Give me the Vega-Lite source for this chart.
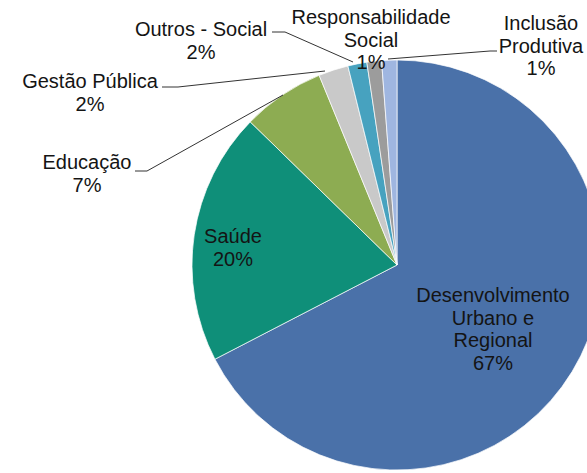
{
  "$schema": "https://vega.github.io/schema/vega-lite/v6.json",
  "width": 587,
  "height": 473,
  "padding": 0,
  "autosize": {"type": "none"},
  "background": "white",
  "config": {"view": {"stroke": null}, "axis": {"disable": true}},
  "datasets": {
    "slices": [
      {"category": "Desenvolvimento Urbano e Regional", "value": 67.4, "ord": 1},
      {"category": "Saúde", "value": 19.9, "ord": 2},
      {"category": "Educação", "value": 6.5, "ord": 3},
      {"category": "Gestão Pública", "value": 2.35, "ord": 4},
      {"category": "Outros - Social", "value": 1.5, "ord": 5},
      {"category": "Responsabilidade Social", "value": 1.15, "ord": 6},
      {"category": "Inclusão Produtiva", "value": 1.2, "ord": 7}
    ],
    "labels": [
      {"label": ["Desenvolvimento", "Urbano e", "Regional", "67%"], "lx": 493, "ly": 296},
      {"label": ["Saúde", "20%"], "lx": 233, "ly": 237},
      {"label": ["Educação", "7%"], "lx": 87, "ly": 163},
      {"label": ["Gestão Pública", "2%"], "lx": 90, "ly": 82},
      {"label": ["Outros - Social", "2%"], "lx": 201, "ly": 30},
      {"label": ["Responsabilidade", "Social", "1%"], "lx": 371, "ly": 18},
      {"label": ["Inclusão", "Produtiva", "1%"], "lx": 541, "ly": 24}
    ],
    "leaders": [
      {"lab": "Educação", "i": 1, "px": 135, "py": 171},
      {"lab": "Educação", "i": 2, "px": 147, "py": 171},
      {"lab": "Educação", "i": 3, "px": 283, "py": 95},
      {"lab": "Gestão", "i": 1, "px": 162, "py": 87},
      {"lab": "Gestão", "i": 2, "px": 178, "py": 87},
      {"lab": "Gestão", "i": 3, "px": 325, "py": 71},
      {"lab": "Outros", "i": 1, "px": 272, "py": 32},
      {"lab": "Outros", "i": 2, "px": 285, "py": 32},
      {"lab": "Outros", "i": 3, "px": 353, "py": 62},
      {"lab": "Inclusao", "i": 1, "px": 388, "py": 59},
      {"lab": "Inclusao", "i": 2, "px": 490, "py": 51},
      {"lab": "Inclusao", "i": 3, "px": 497, "py": 51}
    ]
  },
  "layer": [
    {
      "data": {"name": "slices"},
      "mark": {"type": "arc", "outerRadius": 205, "stroke": "#ffffff", "strokeWidth": 0.7},
      "encoding": {
        "x": {"datum": 397, "type": "quantitative", "scale": {"domain": [0, 587], "nice": false, "zero": false}},
        "y": {"datum": 265, "type": "quantitative", "scale": {"domain": [0, 473], "nice": false, "zero": false, "reverse": true}},
        "theta": {"field": "value", "type": "quantitative", "stack": true},
        "order": {"field": "ord", "type": "quantitative"},
        "color": {
          "field": "category",
          "type": "nominal",
          "legend": null,
          "scale": {
            "domain": ["Desenvolvimento Urbano e Regional", "Saúde", "Educação", "Gestão Pública", "Outros - Social", "Responsabilidade Social", "Inclusão Produtiva"],
            "range": ["#4a71a9", "#0f8f79", "#8dac52", "#c9c9c9", "#47a2bf", "#9c9c9c", "#9fb6e0"]
          }
        }
      }
    },
    {
      "data": {"name": "leaders"},
      "mark": {"type": "line", "color": "#333333", "strokeWidth": 1},
      "encoding": {
        "x": {"field": "px", "type": "quantitative"},
        "y": {"field": "py", "type": "quantitative"},
        "detail": {"field": "lab"},
        "order": {"field": "i", "type": "quantitative"}
      }
    },
    {
      "data": {"name": "labels"},
      "mark": {"type": "text", "font": "Liberation Sans", "fontSize": 20, "lineHeight": 22.5, "align": "center", "baseline": "middle", "color": "#141414"},
      "encoding": {
        "x": {"field": "lx", "type": "quantitative"},
        "y": {"field": "ly", "type": "quantitative"},
        "text": {"field": "label"}
      }
    }
  ]
}
